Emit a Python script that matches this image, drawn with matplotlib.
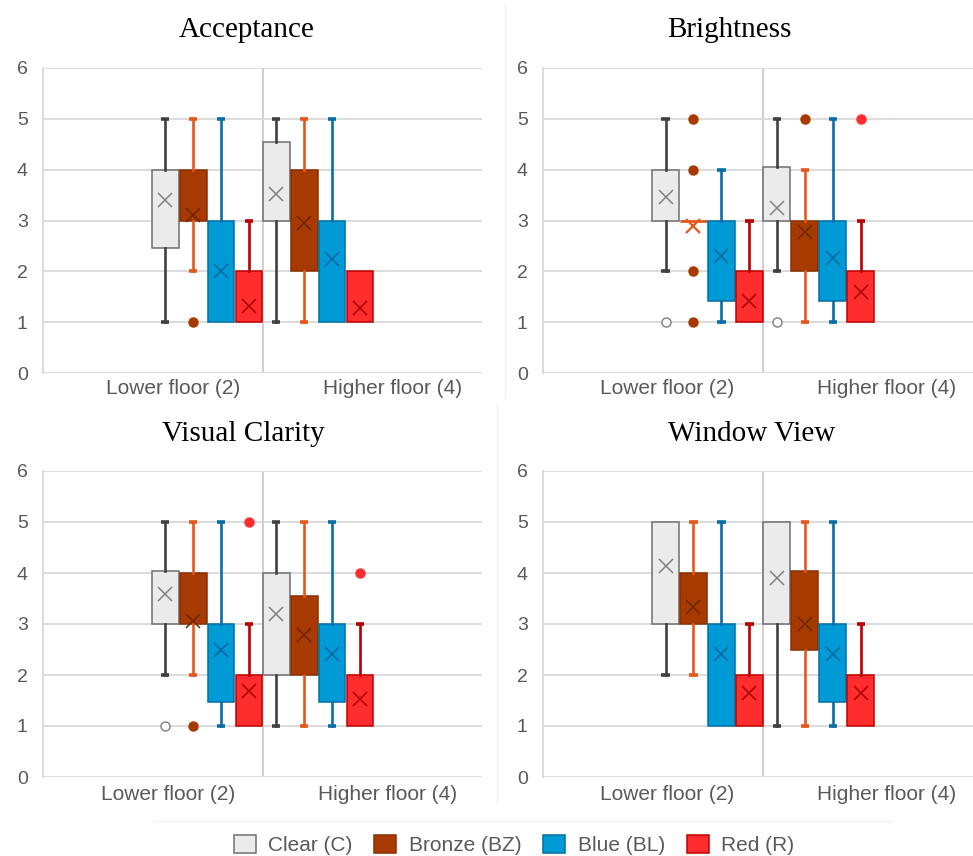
import matplotlib
matplotlib.use("Agg")
import matplotlib.pyplot as plt
from matplotlib.patches import Patch
from matplotlib.lines import Line2D

W, H = 973, 856

FLOORS = ["Lower floor (2)", "Higher floor (4)"]
SERIES = ["Clear (C)", "Bronze (BZ)", "Blue (BL)", "Red (R)"]

# rows = series (C, BZ, BL, R), columns = floors (lower, higher)
acc_lo = [[1, 1], [2, 1], [1, 1], [1, 1]]
acc_q1 = [[2.45, 3], [3, 2], [1, 1], [1, 1]]
acc_q3 = [[4, 4.55], [4, 4], [3, 3], [2, 2]]
acc_hi = [[5, 5], [5, 5], [5, 5], [3, 2]]
acc_mean = [[3.41, 3.53], [3.10, 2.95], [2.00, 2.25], [1.32, 1.27]]
acc_out = [[[], []], [[1], []], [[], []], [[], []]]

bri_lo = [[2, 2], [3, 1], [1, 1], [1, 1]]
bri_q1 = [[3, 3], [3, 2], [1.42, 1.42], [1, 1]]
bri_q3 = [[4, 4.05], [3, 3], [3, 3], [2, 2]]
bri_hi = [[5, 5], [3, 4], [4, 5], [3, 3]]
bri_mean = [[3.46, 3.25], [2.89, 2.78], [2.30, 2.27], [1.42, 1.60]]
bri_out = [[[1], [1]], [[5, 4, 2, 1], [5]], [[], []], [[], [5]]]

vis_lo = [[2, 1], [2, 1], [1, 1], [1, 1]]
vis_q1 = [[3, 2], [3, 2], [1.47, 1.47], [1, 1]]
vis_q3 = [[4.03, 4], [4, 3.55], [3, 3], [2, 2]]
vis_hi = [[5, 5], [5, 5], [5, 5], [3, 3]]
vis_mean = [[3.58, 3.19], [3.06, 2.79], [2.50, 2.42], [1.68, 1.52]]
vis_out = [[[1], []], [[1], []], [[], []], [[5], [4]]]

win_lo = [[2, 1], [2, 1], [1, 1], [1, 1]]
win_q1 = [[3, 3], [3, 2.5], [1, 1.47], [1, 1]]
win_q3 = [[5, 5], [4, 4.03], [3, 3], [2, 2]]
win_hi = [[5, 5], [5, 5], [5, 5], [3, 3]]
win_mean = [[4.14, 3.91], [3.34, 3.00], [2.42, 2.42], [1.65, 1.65]]
win_out = [[[], []], [[], []], [[], []], [[], []]]

FACE = ["#EBEBEB", "#A63A00", "#009AD7", "#FF2D2D"]
EDGE = ["#6F6F6F", "#8A3000", "#006FA6", "#C00000"]
WHISK = ["#404040", "#E3581C", "#0A6DA5", "#B80000"]
MEANC = ["#808080", "#6E2400", "#00669E", "#A80000"]
FLIER_FACE = ["white", "#A63A00", "#009AD7", "#FF2D2D"]
FLIER_EDGE = ["#7F7F7F", "#A63A00", "#009AD7", "#FF2D2D"]

GROUP_START = [0.057, 0.563]
STEP = 0.127
BOX_W = 0.122
TXT = "#595959"

plt.rcParams["font.family"] = ["Liberation Sans", "DejaVu Sans"]

fig = plt.figure(figsize=(W / 100, H / 100), dpi=100)

panels = [
    ("Acceptance", acc_lo, acc_q1, acc_q3, acc_hi, acc_mean, acc_out,
     (43, 68, 439, 305), (247, 30), [173, 393], 388),
    ("Brightness", bri_lo, bri_q1, bri_q3, bri_hi, bri_mean, bri_out,
     (543, 68, 440, 305), (729, 30), [667, 887], 388),
    ("Visual Clarity", vis_lo, vis_q1, vis_q3, vis_hi, vis_mean, vis_out,
     (43, 471, 439, 306), (243, 434), [168, 388], 794),
    ("Window View", win_lo, win_q1, win_q3, win_hi, win_mean, win_out,
     (543, 471, 440, 306), (752, 434), [667, 887], 794),
]

for (title, lo, q1, q3, hi, mean, out, box, tpos, lab_x, lab_y) in panels:
    x0, top, w, h = box
    ax = fig.add_axes([x0 / W, 1 - (top + h) / H, w / W, h / H])
    ax.set_xlim(-0.5, 1.5)
    ax.set_ylim(0, 6)
    ax.set_yticks(range(7))
    ax.yaxis.grid(True, color="#D9D9D9", linewidth=1.3)
    ax.set_axisbelow(True)
    for side in ["top", "right", "bottom"]:
        ax.spines[side].set_visible(False)
    ax.spines["left"].set_color("#D9D9D9")
    ax.spines["left"].set_linewidth(1.3)
    ax.axvline(0.5, color="#CFCFCF", linewidth=1.4, zorder=0.5)
    ax.tick_params(axis="y", length=0, pad=11, labelsize=14, labelcolor=TXT)
    ax.set_xticks([])

    for s in range(4):
        stats = []
        for f in range(2):
            stats.append(dict(med=q1[s][f], q1=q1[s][f], q3=q3[s][f],
                              whislo=lo[s][f], whishi=hi[s][f],
                              mean=mean[s][f], fliers=out[s][f]))
        pos = [GROUP_START[f] + STEP * s for f in range(2)]
        arts = ax.bxp(
            stats, positions=pos, widths=BOX_W, capwidths=0.038,
            patch_artist=True, showmeans=True,
            boxprops=dict(facecolor=FACE[s], edgecolor=EDGE[s], linewidth=1.1),
            whiskerprops=dict(color=WHISK[s], linewidth=1.9),
            capprops=dict(color=WHISK[s], linewidth=2.6, solid_capstyle="butt"),
            medianprops=dict(linewidth=0),
            meanprops=dict(marker="x", markersize=10.5, markeredgewidth=1.1,
                           markeredgecolor=MEANC[s], markerfacecolor="none"),
            flierprops=dict(marker="o", markersize=6.5,
                            markerfacecolor=FLIER_FACE[s],
                            markeredgecolor=FLIER_EDGE[s], markeredgewidth=1),
            manage_ticks=False,
        )
        for f in range(2):
            if lo[s][f] >= q1[s][f]:
                arts["caps"][2 * f].set_visible(False)
            if hi[s][f] <= q3[s][f]:
                arts["caps"][2 * f + 1].set_visible(False)
            if q1[s][f] == q3[s][f]:
                # collapsed box: Excel draws it as a short line in the whisker colour
                arts["boxes"][f].set_edgecolor(WHISK[s])
                arts["boxes"][f].set_linewidth(2)
                arts["means"][f].set_markeredgecolor(WHISK[s])
                arts["means"][f].set_markeredgewidth(1.6)

    fig.text(tpos[0] / W, 1 - tpos[1] / H, title, ha="center", va="center",
             fontsize=21, family=["Liberation Serif", "DejaVu Serif"],
             color="black")
    for lx, lab in zip(lab_x, FLOORS):
        fig.text(lx / W, 1 - lab_y / H, lab, ha="center", va="center",
                 fontsize=15, color=TXT)

# faint chart-area borders from the source layout
fig.add_artist(Line2D([505 / W, 505 / W], [1 - 5 / H, 1 - 398 / H],
                      color="#F0F0F0", linewidth=1))
fig.add_artist(Line2D([497 / W, 497 / W], [1 - 404 / H, 1 - 802 / H],
                      color="#F0F0F0", linewidth=1))
fig.add_artist(Line2D([153 / W, 893 / W], [1 - 821 / H, 1 - 821 / H],
                      color="#F0F0F0", linewidth=1))

handles = [Patch(facecolor=FACE[i], edgecolor=EDGE[i], linewidth=1.1)
           for i in range(4)]
fig.legend(handles, SERIES, loc="center", ncol=4, frameon=False,
           bbox_to_anchor=(514 / W, 1 - 845 / H), fontsize=15,
           labelcolor=TXT, handlelength=1.05, handleheight=0.95,
           handletextpad=0.6, columnspacing=1.05)

fig.savefig("out.png", dpi=100)
